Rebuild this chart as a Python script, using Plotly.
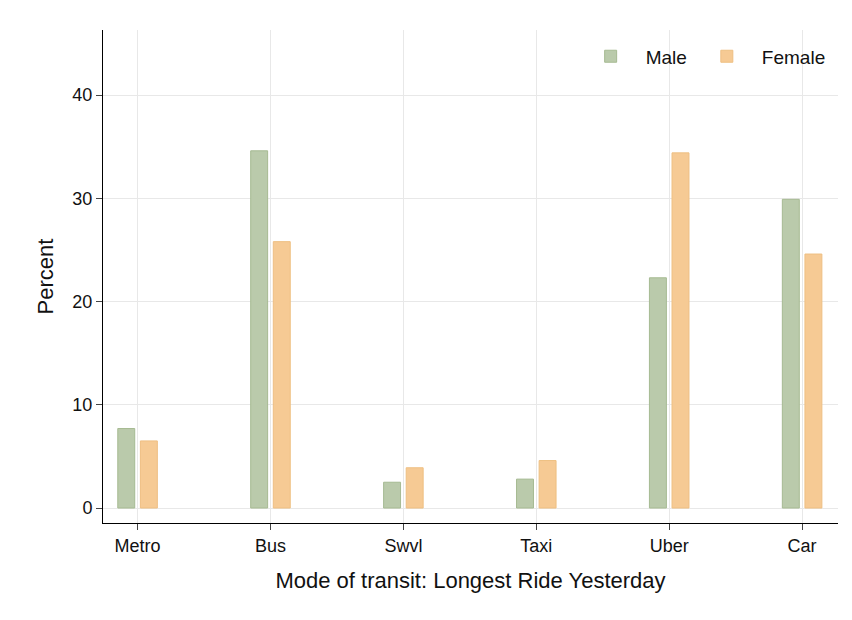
import plotly.graph_objects as go

categories = ["Metro", "Bus", "Swvl", "Taxi", "Uber", "Car"]
male = [7.7, 34.6, 2.5, 2.8, 22.3, 29.9]
female = [6.5, 25.8, 3.9, 4.6, 34.4, 24.6]

fig = go.Figure()
fig.add_bar(x=categories, y=male, name="Male",
            marker=dict(color="#bacaab", line=dict(color="#a6ba92", width=1)))
fig.add_bar(x=categories, y=female, name="Female",
            marker=dict(color="#f6ca94", line=dict(color="#eebf82", width=1)))

fig.update_layout(
    width=852, height=620, barmode="group", bargap=0.66, bargroupgap=0.25,
    plot_bgcolor="white", paper_bgcolor="white",
    margin=dict(l=95, r=22, t=22, b=105, autoexpand=False),
    font=dict(family="Liberation Sans, Arial", size=18, color="#111"),
    legend=dict(orientation="h", x=0.99, y=0.985, xanchor="right", yanchor="top",
                font=dict(size=19), itemwidth=60, bgcolor="rgba(0,0,0,0)"),
    xaxis=dict(title=dict(text="Mode of transit: Longest Ride Yesterday", standoff=18),
               range=[-0.26, 5.27], showline=True, linecolor="black", ticks="outside",
               ticklen=6, showgrid=True, gridcolor="#e8e8e8", automargin=False),
    yaxis=dict(title=dict(text="Percent", standoff=12), range=[-1.45, 46.3],
               tickvals=[0, 10, 20, 30, 40], showline=True, linecolor="black",
               ticks="outside", ticklen=6, showgrid=True, gridcolor="#e8e8e8",
               zeroline=False, automargin=False),
)
fig.write_html("out.html")
